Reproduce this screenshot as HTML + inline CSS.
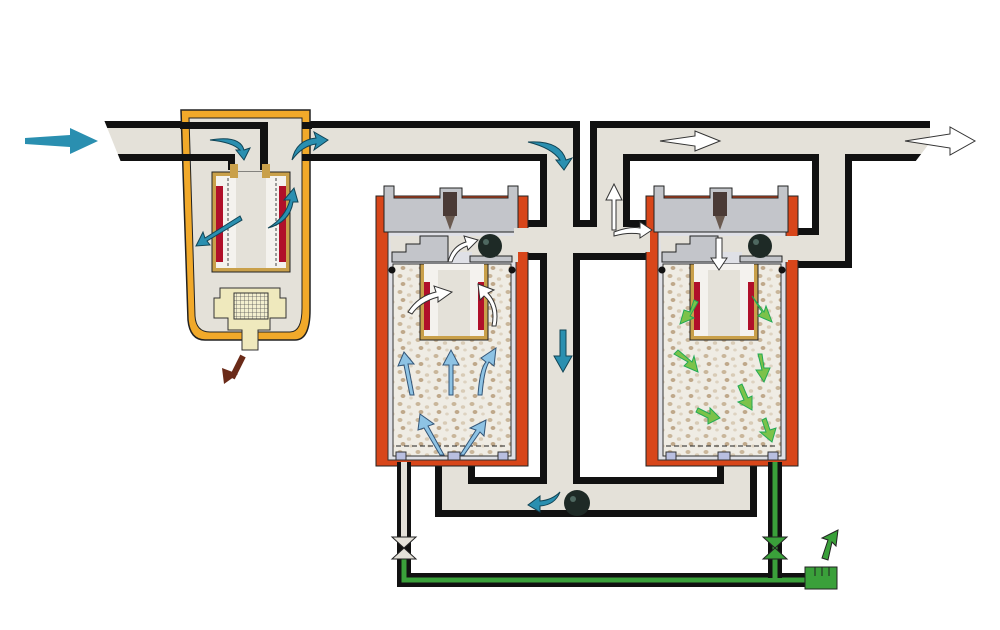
<!DOCTYPE html>
<html><head><meta charset="utf-8"><style>
html,body{margin:0;padding:0;background:#fff;}
svg{display:block;}
</style></head><body>
<svg width="1000" height="630" viewBox="0 0 1000 630" xmlns="http://www.w3.org/2000/svg">
<defs>
<pattern id="des" width="18" height="16" patternUnits="userSpaceOnUse">
<rect width="18" height="16" fill="#efece4"/>
<ellipse cx="4" cy="4" rx="2.5" ry="2" fill="#c9b69a"/>
<ellipse cx="13" cy="7" rx="2.2" ry="1.8" fill="#d8cbb6"/>
<ellipse cx="7" cy="12" rx="2.4" ry="2" fill="#bfa88a"/>
<ellipse cx="15" cy="14" rx="1.8" ry="1.5" fill="#ddd2c0"/>
</pattern>
<pattern id="mesh" width="4" height="4" patternUnits="userSpaceOnUse">
<rect width="4" height="4" fill="#f3efcf"/><path d="M0 0H4M0 0V4" stroke="#555" stroke-width="0.8"/>
</pattern>
</defs>
<rect width="1000" height="630" fill="#fff"/>

<g fill="none" stroke="#111" stroke-width="40" stroke-linejoin="miter">
<path d="M92 141 H560 V497"/>
<path d="M520 240 H652"/>
<path d="M610 240 V141 H930"/>
<path d="M798 248 H832 V141"/>
<path d="M455 462 V497 H737 V462"/>
</g>
<g fill="none" stroke="#e4e1d9" stroke-width="26" stroke-linejoin="miter">
<path d="M92 141 H560 V497"/>
<path d="M520 240 H652"/>
<path d="M610 240 V141 H930"/>
<path d="M798 248 H832 V141"/>
<path d="M455 462 V497 H737 V462"/>
</g>
<polygon points="60,110 100,110 125,172 60,172" fill="#fff"/>
<polygon points="60,110 88,118 112,160 60,172" fill="#fff"/>
<polygon points="905,175 955,110 990,110 990,175" fill="#fff"/>

<path d="M181 110 H310 V310 Q310 340 295 340 H205 Q190 340 188 320 Z" fill="#f1a92a" stroke="#222" stroke-width="1.5"/>
<path d="M189 118 H302 V308 Q302 332 290 332 H210 Q196 332 195 316 Z" fill="#e4e1d9" stroke="#222" stroke-width="1"/>
<rect x="180" y="122" width="86" height="7" fill="#111"/>
<rect x="260" y="122" width="8" height="48" fill="#111"/>
<rect x="180" y="154" width="54" height="7" fill="#111"/>
<rect x="228" y="154" width="7" height="16" fill="#111"/>
<rect x="302" y="122" width="10" height="7" fill="#111"/>
<rect x="302" y="154" width="10" height="7" fill="#111"/>
<rect x="212" y="172" width="78" height="100" fill="#c9a04a" stroke="#222"/>
<rect x="216" y="176" width="70" height="92" fill="#f4f2ee"/>
<rect x="236" y="172" width="30" height="96" fill="#e4e1d9"/>
<rect x="216" y="186" width="7" height="76" fill="#b0102a"/>
<rect x="279" y="186" width="7" height="76" fill="#b0102a"/>
<path d="M228 178V266M276 178V266" stroke="#444" stroke-dasharray="3 2"/>
<rect x="230" y="164" width="8" height="14" fill="#c9a04a"/>
<rect x="262" y="164" width="8" height="14" fill="#c9a04a"/>
<path d="M220 288 H280 V298 H286 V318 H270 V330 H258 V350 H242 V330 H228 V318 H214 V298 H220 Z" fill="#efe9bd" stroke="#333"/>
<rect x="234" y="293" width="34" height="26" fill="url(#mesh)" stroke="#333"/>
<path d="M243 356 L232 378" stroke="#6a2a18" stroke-width="6"/>
<polygon points="224,384 222,368 238,374" fill="#6a2a18"/>

<g id="cyl">
<rect x="376" y="196" width="152" height="270" fill="#d8461a" stroke="#222"/>
<rect x="388" y="232" width="128" height="228" fill="#dfe0e6" stroke="#333"/>
<rect x="393" y="264" width="118" height="192" fill="url(#des)" stroke="#333"/>
<path d="M396 446 H508" stroke="#222" stroke-dasharray="5 3"/>
<rect x="396" y="452" width="10" height="8" fill="#b9bfe0" stroke="#333"/>
<rect x="448" y="452" width="12" height="8" fill="#b9bfe0" stroke="#333"/>
<rect x="498" y="452" width="10" height="8" fill="#b9bfe0" stroke="#333"/>
<path d="M384 186 H394 V198 H440 V188 H462 V198 H508 V186 H518 V232 H384 Z" fill="#c3c5ca" stroke="#222"/>
<path d="M390 236 H518 V262 H472 V252 H426 V262 H392 Z" fill="#e4e1d9"/>
<path d="M392 262 V252 H406 V244 H420 V236 H448 V262 Z" fill="#c3c5ca" stroke="#222"/>
<path d="M470 262 H512 V256 H470 Z" fill="#c3c5ca" stroke="#222"/>
<rect x="443" y="192" width="14" height="24" fill="#4a3a36"/>
<polygon points="445,216 455,216 450,230" fill="#6a5a50"/>
<circle cx="490" cy="246" r="12" fill="#1e2a26"/>
<circle cx="486" cy="242" r="3" fill="#4e6860"/>
<rect x="420" y="264" width="68" height="76" fill="#c9a04a" stroke="#222"/>
<rect x="424" y="264" width="60" height="72" fill="#f4f2ee"/>
<rect x="438" y="270" width="32" height="66" fill="#e4e1d9"/>
<rect x="424" y="282" width="6" height="48" fill="#b0102a"/>
<rect x="478" y="282" width="6" height="48" fill="#b0102a"/>
<circle cx="392" cy="270" r="3.5" fill="#111"/>
<circle cx="512" cy="270" r="3.5" fill="#111"/>
</g>
<use href="#cyl" transform="translate(270,0)"/>

<rect x="514" y="228" width="16" height="24" fill="#e4e1d9"/>
<rect x="784" y="236" width="16" height="24" fill="#e4e1d9"/>
<rect x="638" y="228" width="12" height="24" fill="#e4e1d9"/>

<circle cx="577" cy="503" r="13" fill="#1e2a26"/>
<circle cx="573" cy="499" r="3" fill="#4e6860"/>

<g fill="none" stroke-linejoin="miter">
<path d="M404 462 V580 H806" stroke="#111" stroke-width="14"/>
<path d="M404 462 V540" stroke="#e4e1d9" stroke-width="6"/>
<path d="M404 556 V580 H806" stroke="#3aa03a" stroke-width="5"/>
<path d="M775 462 V578" stroke="#111" stroke-width="14"/>
<path d="M775 462 V578" stroke="#3aa03a" stroke-width="5"/>
</g>
<polygon points="392,537 416,537 404,548 416,559 392,559 404,548" fill="#e4e1d9" stroke="#222"/>
<polygon points="763,537 787,537 775,548 787,559 763,559 775,548" fill="#3aa03a" stroke="#222"/>
<rect x="805" y="567" width="32" height="22" fill="#3aa03a" stroke="#222"/>
<path d="M815 567V576M822 567V576M829 567V576" stroke="#222"/>
<polygon points="822,558 828,540 822,538 838,530 836,546 832,542 828,560" fill="#3aa03a" stroke="#222"/>

<polygon points="98,141 70,128 70,135 25,138 25,144 70,147 70,154" fill="#2a8fb0"/>
<g fill="#2a8fb0" stroke="#145">
<path d="M210 140 Q240 135 244 150 L250 148 L244 160 L236 150 L240 150 Q232 142 210 140Z"/>
<path d="M292 160 Q296 140 316 138 L314 132 L328 140 L314 150 L316 144 Q302 146 292 160Z"/>
<path d="M528 142 Q560 140 566 160 L572 158 L564 170 L556 160 L560 160 Q552 148 528 142Z"/>
<path d="M560 330 L566 330 L566 356 L572 356 L563 372 L554 356 L560 356Z"/>
<path d="M560 492 Q555 505 540 506 L540 512 L528 505 L540 496 L540 501 Q552 500 560 492Z"/>
<path d="M240 216 L205 238 L203 232 L196 246 L210 245 L207 241 L242 220Z"/>
<path d="M268 228 Q285 218 290 200 L284 200 L294 188 L298 202 L293 202 Q290 222 268 228Z"/>
</g>
<g fill="#8ec3e4" stroke="#357">
<path d="M410 395 L404 365 L398 366 L404 352 L414 364 L408 364 L414 395Z"/>
<path d="M449 395 L449 365 L443 365 L451 350 L459 365 L453 365 L453 395Z"/>
<path d="M478 395 Q480 368 486 362 L481 358 L496 348 L494 366 L489 362 Q484 370 482 395Z"/>
<path d="M440 455 L424 428 L418 430 L420 414 L434 424 L428 426 L444 455Z"/>
<path d="M460 455 L476 430 L470 428 L486 420 L484 436 L480 432 L464 455Z"/>
</g>
<g fill="#fff" stroke="#333">
<polygon points="660,141 695,136 695,131 720,141 695,151 695,146"/>
<polygon points="905,141 950,134 950,127 975,141 950,155 950,148"/>
<path d="M612 230 L612 200 L606 200 L614 184 L622 200 L616 200 L616 230 Z"/>
<path d="M614 232 Q630 226 640 228 L640 222 L652 230 L640 238 L640 234 Q628 232 614 236Z"/>
<path d="M448 262 Q452 246 466 242 L464 236 L478 240 L468 250 L467 246 Q456 250 452 262Z"/>
<path d="M408 312 Q418 296 436 292 L434 286 L452 292 L438 302 L438 297 Q420 302 412 314Z"/>
<path d="M492 326 Q496 306 484 296 L480 300 L478 284 L494 290 L488 293 Q500 306 496 326Z"/>
<path d="M716 238 V258 H711 L719 270 L727 258 H722 V238Z"/>
</g>
<g fill="#7cc24a" stroke="#2a5">
<path d="M694 300 L690 312 L684 310 L680 324 L694 318 L690 316 L698 302Z"/>
<path d="M752 296 L764 312 L766 306 L772 322 L758 316 L762 312Z"/>
<path d="M678 350 L692 362 L694 356 L698 372 L684 366 L688 362 L674 354Z"/>
<path d="M758 354 L762 370 L756 370 L764 382 L770 368 L764 368 L762 354Z"/>
<path d="M698 408 L710 414 L710 408 L720 418 L708 424 L708 418 L696 412Z"/>
<path d="M738 386 L744 400 L738 402 L752 410 L752 396 L748 398 L742 384Z"/>
<path d="M762 420 L766 432 L760 432 L772 442 L776 428 L770 430 L766 418Z"/>
</g>
</svg>
</body></html>
